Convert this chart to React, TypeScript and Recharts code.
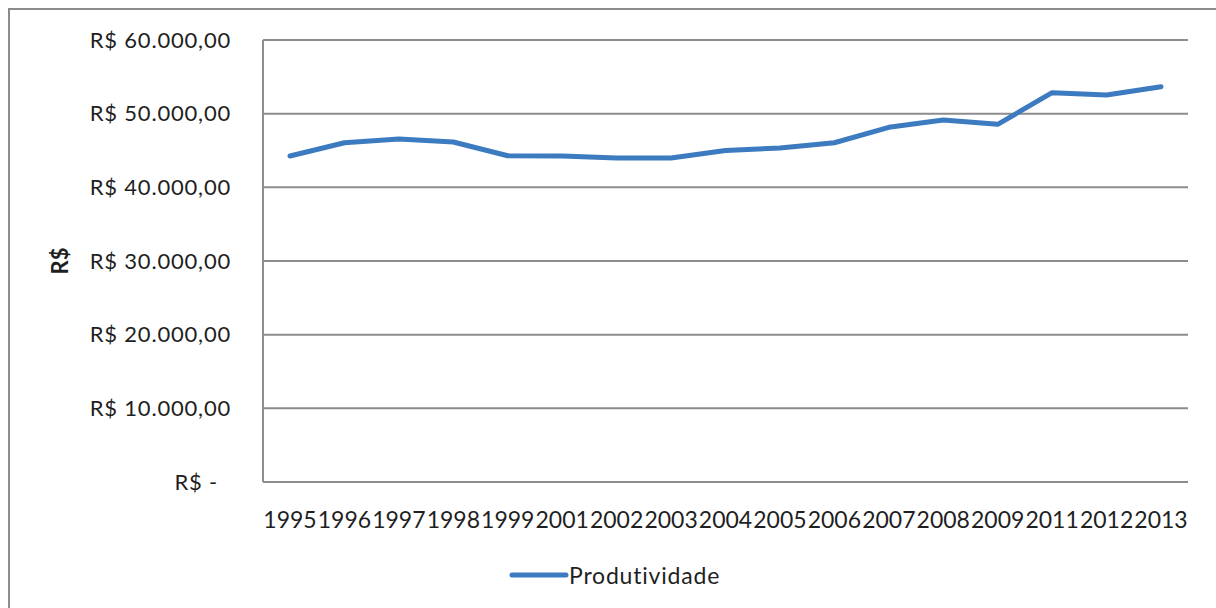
import React from "react";
import {
  LineChart,
  Line,
  XAxis,
  YAxis,
  CartesianGrid,
  Legend,
} from "recharts";

const years = [
  "1995", "1996", "1997", "1998", "1999", "2001", "2002", "2003", "2004",
  "2005", "2006", "2007", "2008", "2009", "2011", "2012", "2013",
];

const produtividade = [
  44250, 46050, 46560, 46150, 44290, 44250, 43980, 43980, 45000,
  45350, 46050, 48150, 49140, 48550, 52850, 52530, 53660,
];

const yTicks = [0, 10000, 20000, 30000, 40000, 50000, 60000];

const data = years.map((year, i) => ({ year, Produtividade: produtividade[i] }));

const FONT = "Lato, 'Open Sans', sans-serif";
const GRID = "#8c8c8c";
const BLUE = "#3c7bbf";

function formatBRL(v: number) {
  if (v === 0) return "R$ -";
  const s = v.toFixed(0).replace(/\B(?=(\d{3})+(?!\d))/g, ".");
  return `R$ ${s},00`;
}

function YTick(props: any) {
  const { x, y, payload } = props;
  const zero = payload.value === 0;
  return (
    <text
      x={zero ? x - 13 : x}
      y={y}
      dy="0.35em"
      textAnchor="end"
      fill="#1f1f1f"
      fontFamily={FONT}
      fontSize={22}
      letterSpacing={0.8}
    >
      {formatBRL(payload.value)}
    </text>
  );
}

function LegendContent() {
  return (
    <div style={{ display: "flex", alignItems: "center", height: 30 }}>
      <svg width={60} height={10}>
        <line x1={3} y1={5} x2={57} y2={5} stroke={BLUE} strokeWidth={5} strokeLinecap="round" />
      </svg>
      <span style={{ fontFamily: FONT, fontSize: 23, letterSpacing: 0.8, color: "#1f1f1f" }}>
        Produtividade
      </span>
    </div>
  );
}

export default function App() {
  return (
    <div style={{ position: "absolute", left: 0, top: 0, width: 1216, height: 608, background: "#fff" }}>
      <div
        style={{
          position: "absolute",
          left: 8,
          top: 8,
          width: 1208,
          height: 600,
          borderTop: `2px solid ${GRID}`,
          borderLeft: `2px solid ${GRID}`,
        }}
      />
      <div style={{ position: "absolute", left: 0, top: 0 }}>
        <LineChart
          width={1216}
          height={608}
          data={data}
          margin={{ top: 40, right: 28, left: 0, bottom: 18 }}
        >
          <CartesianGrid vertical={false} stroke={GRID} strokeWidth={2} />
          <XAxis
            dataKey="year"
            interval={0}
            height={78}
            padding={{ left: 27, right: 27 }}
            tickLine={false}
            tickSize={0}
            tickMargin={30}
            axisLine={{ stroke: GRID, strokeWidth: 2 }}
            tick={{ fill: "#1f1f1f", fontFamily: FONT, fontSize: 23 }}
          />
          <YAxis
            width={263}
            domain={[0, 60000]}
            ticks={yTicks}
            interval={0}
            tickLine={false}
            tickSize={0}
            tickMargin={32}
            axisLine={{ stroke: GRID, strokeWidth: 2 }}
            tick={<YTick />}
            label={{
              value: "R$",
              angle: -90,
              position: "insideLeft",
              offset: 60,
              style: { textAnchor: "middle", fontFamily: FONT, fontSize: 22, fontWeight: 700, fill: "#1f1f1f" },
            }}
          />
          <Legend
            verticalAlign="bottom"
            height={30}
            content={<LegendContent />}
            wrapperStyle={{ left: 509, width: 280 }}
          />
          <Line
            type="linear"
            dataKey="Produtividade"
            stroke={BLUE}
            strokeWidth={5}
            strokeLinejoin="round"
            strokeLinecap="round"
            dot={false}
            activeDot={false}
            isAnimationActive={false}
          />
        </LineChart>
      </div>
    </div>
  );
}
